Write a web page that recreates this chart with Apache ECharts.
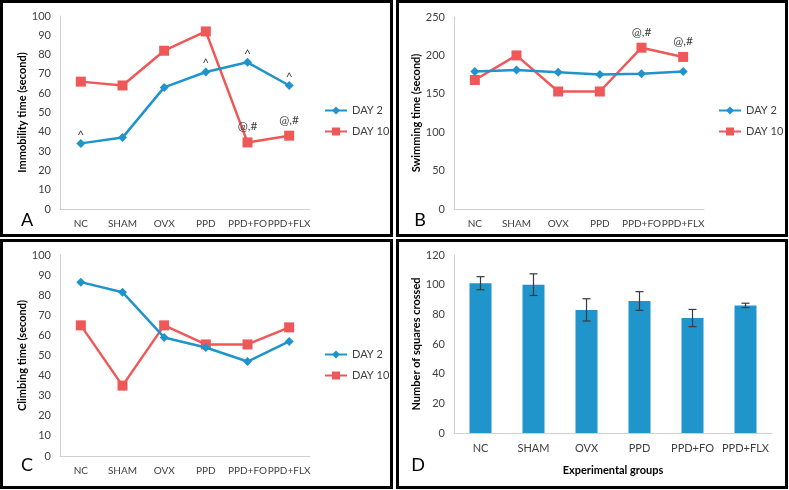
<!DOCTYPE html>
<html>
<head>
<meta charset="utf-8">
<script src="https://cdn.jsdelivr.net/npm/echarts@6/dist/echarts.min.js"></script>
<style>
  html, body { margin: 0; padding: 0; background: #fff; }
  #chart { width: 789px; height: 490px; }
</style>
</head>
<body>
<div id="chart"></div>
<script>
// groups on every x axis
const categories = ['NC', 'SHAM', 'OVX', 'PPD', 'PPD+FO', 'PPD+FLX'];

// panel A - immobility time
const immobilityDay2 = [34, 37, 63, 71, 76, 64];
const immobilityDay10 = [66, 64, 82, 92, 34.5, 38];
const marksImmobilityDay2 = ['^', '', '', '^', '^', '^'];
const marksImmobilityDay10 = ['', '', '', '', '@,#', '@,#'];

// panel B - swimming time
const swimmingDay2 = [179, 181, 178, 175, 176, 179];
const swimmingDay10 = [168, 200, 153, 153, 210, 198];
const marksSwimmingDay10 = ['', '', '', '', '@,#', '@,#'];

// panel C - climbing time
const climbingDay2 = [86.5, 81.5, 59, 54, 47, 57];
const climbingDay10 = [65, 35, 65, 55.5, 55.5, 64];

// panel D - squares crossed (mean +/- error)
const squaresMean = [101, 100, 83, 89, 77.5, 86];
const squaresErr = [4.4, 7.3, 7.5, 6.3, 5.8, 1.5];

const BLUE = '#1f94cc';
const RED = '#ee5858';
const TEXT = '#404040';
const FONT = 'Lato, "Liberation Sans", sans-serif';

function withMarks(values, marks) {
  return values.map((v, i) => {
    if (!marks || !marks[i]) return v;
    // the caret glyph sits high in its box, so pull it down a bit
    const off = marks[i] === '^' ? [0, 7] : [0, 0];
    return { value: v, label: { show: true, formatter: marks[i], position: 'top', distance: 5, offset: off, color: TEXT, fontSize: 12, fontFamily: FONT } };
  });
}

function catAxis(gridIndex, size, extra) {
  return Object.assign({
    type: 'category',
    gridIndex: gridIndex,
    data: categories,
    axisLine: { lineStyle: { color: '#d0d0d0', width: 1 } },
    axisTick: { show: false },
    axisLabel: { color: TEXT, fontSize: size, fontFamily: FONT, margin: 10, interval: 0 }
  }, extra || {});
}

function valAxis(gridIndex, max, interval, name, gap) {
  return {
    type: 'value',
    gridIndex: gridIndex,
    min: 0,
    max: max,
    interval: interval,
    name: name,
    nameLocation: 'middle',
    nameGap: gap,
    nameTextStyle: { color: '#000', fontSize: 11, fontWeight: 'bold', fontFamily: FONT },
    axisLine: { show: true, lineStyle: { color: '#d0d0d0', width: 1 } },
    axisTick: { show: false },
    splitLine: { show: false },
    axisLabel: { color: TEXT, fontSize: 11, fontFamily: FONT, margin: 9 }
  };
}

function lineSeries(name, axisIndex, data, isDay2) {
  return {
    name: name,
    type: 'line',
    xAxisIndex: axisIndex,
    yAxisIndex: axisIndex,
    data: data,
    symbol: isDay2 ? 'diamond' : 'rect',
    symbolSize: isDay2 ? 9 : 10,
    lineStyle: { color: isDay2 ? BLUE : RED, width: 2.5 },
    itemStyle: { color: isDay2 ? BLUE : RED },
    emphasis: { disabled: true },
    z: isDay2 ? 3 : 2
  };
}

function legendAt(left, top) {
  return {
    data: ['DAY 2', 'DAY 10'],
    orient: 'vertical',
    left: left,
    top: top,
    padding: 0,
    itemWidth: 22,
    itemHeight: 10,
    itemGap: 10,
    selectedMode: false,
    textStyle: { color: TEXT, fontSize: 11, fontFamily: FONT }
  };
}

function frame(x, y, w, h) {
  return { type: 'rect', shape: { x: x, y: y, width: w, height: h }, style: { fill: 'none', stroke: '#000', lineWidth: 3 }, silent: true };
}

function letter(text, x, y) {
  return { type: 'text', x: x, y: y, style: { text: text, fill: '#000', font: '18px ' + FONT, textAlign: 'center', textVerticalAlign: 'middle' }, silent: true };
}

const chart = echarts.init(document.getElementById('chart'));

const option = {
  animation: false,
  backgroundColor: '#fff',
  grid: [
    { left: 60, top: 16, width: 250, height: 193 },
    { left: 454, top: 17, width: 250, height: 192 },
    { left: 60, top: 255, width: 250, height: 201 },
    { left: 454, top: 255, width: 318, height: 178 }
  ],
  xAxis: [
    catAxis(0, 10),
    catAxis(1, 10),
    catAxis(2, 10),
    catAxis(3, 11, {
      name: 'Experimental groups',
      nameLocation: 'middle',
      nameGap: 32,
      nameTextStyle: { color: '#000', fontSize: 11, fontWeight: 'bold', fontFamily: FONT }
    })
  ],
  yAxis: [
    valAxis(0, 100, 10, 'Immobility time (second)', 27),
    valAxis(1, 250, 50, 'Swimming time (second)', 28),
    valAxis(2, 100, 10, 'Climbing time (second)', 27),
    valAxis(3, 120, 20, 'Number of squares crossed', 27)
  ],
  legend: [
    legendAt(324, 105),
    legendAt(718, 105),
    legendAt(324, 349)
  ],
  series: [
    lineSeries('DAY 2', 0, withMarks(immobilityDay2, marksImmobilityDay2), true),
    lineSeries('DAY 10', 0, withMarks(immobilityDay10, marksImmobilityDay10), false),
    lineSeries('DAY 2', 1, swimmingDay2, true),
    lineSeries('DAY 10', 1, withMarks(swimmingDay10, marksSwimmingDay10), false),
    lineSeries('DAY 2', 2, climbingDay2, true),
    lineSeries('DAY 10', 2, climbingDay10, false),
    {
      name: 'Squares',
      type: 'bar',
      xAxisIndex: 3,
      yAxisIndex: 3,
      data: squaresMean,
      barWidth: 22,
      itemStyle: { color: '#1f95cc' },
      emphasis: { disabled: true }
    },
    {
      name: 'Error',
      type: 'custom',
      xAxisIndex: 3,
      yAxisIndex: 3,
      data: squaresMean.map((m, i) => [i, m, squaresErr[i]]),
      z: 5,
      renderItem: function (params, api) {
        const x = api.value(0);
        const m = api.value(1);
        const e = api.value(2);
        const hi = api.coord([x, m + e]);
        const lo = api.coord([x, m - e]);
        const cap = 4;
        const style = { stroke: '#3a3a3a', lineWidth: 1.2 };
        return {
          type: 'group',
          children: [
            { type: 'line', shape: { x1: hi[0], y1: hi[1], x2: lo[0], y2: lo[1] }, style: style },
            { type: 'line', shape: { x1: hi[0] - cap, y1: hi[1], x2: hi[0] + cap, y2: hi[1] }, style: style },
            { type: 'line', shape: { x1: lo[0] - cap, y1: lo[1], x2: lo[0] + cap, y2: lo[1] }, style: style }
          ]
        };
      }
    }
  ],
  graphic: [
    frame(1.5, 1.5, 390, 234),
    frame(397.5, 1.5, 389, 234),
    frame(1.5, 240.5, 390, 247),
    frame(397.5, 240.5, 389, 247),
    letter('A', 27, 220),
    letter('B', 420, 220),
    letter('C', 27, 465),
    letter('D', 418, 465)
  ]
};

chart.setOption(option);
</script>
</body>
</html>
